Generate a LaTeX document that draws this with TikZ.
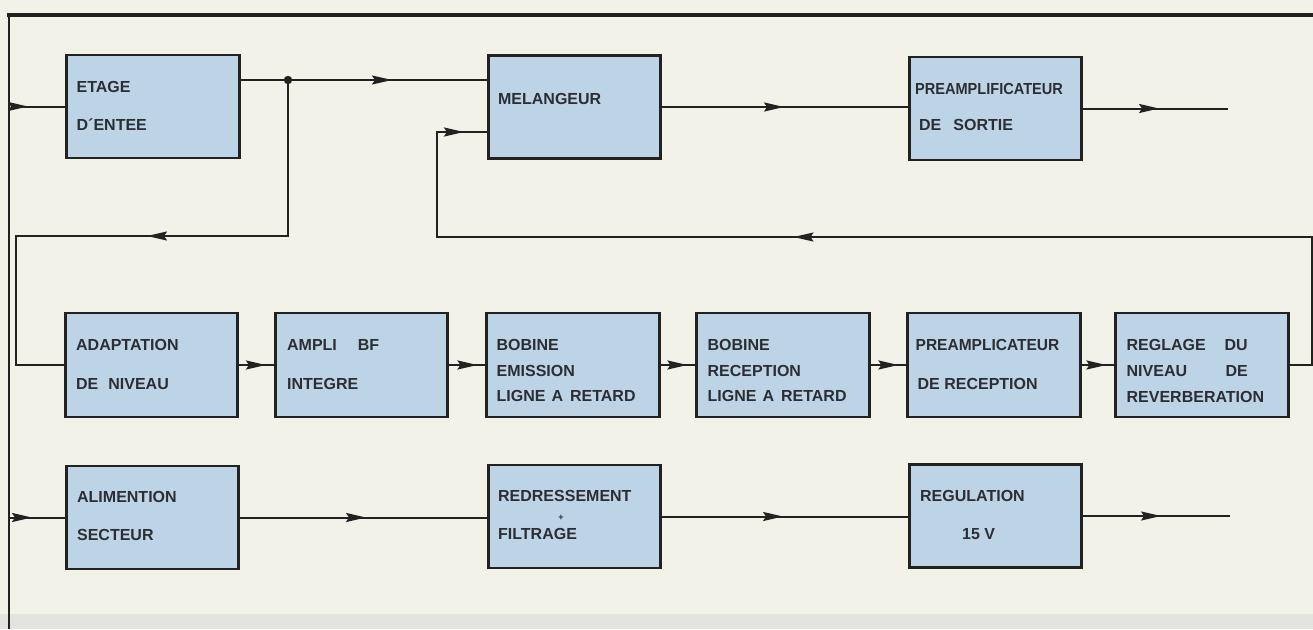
\documentclass[tikz,border=0pt]{standalone}
\usepackage{fontspec}
\setmainfont{Liberation Sans}
\usetikzlibrary{arrows.meta,decorations.markings}
\definecolor{paper}{HTML}{F3F2E8}
\definecolor{band}{HTML}{E4E4DF}
\definecolor{boxblue}{HTML}{BDD4E7}
\definecolor{ink}{HTML}{222222}
\definecolor{txtc}{HTML}{2C2E33}
\tikzset{
  tipS/.tip={Stealth[length=20pt,width=9pt,inset=3pt]},
  blk/.style={draw=ink,line width=2.6pt,fill=boxblue,minimum width=172.5pt,minimum height=103pt,inner sep=0pt},
  txt/.style={anchor=base west,inner sep=0pt,text=txtc,font=\fontsize{16}{18}\selectfont\bfseries},
  wire/.style={draw=ink,line width=2pt},
  arrat/.style={postaction={decorate,decoration={markings,mark=at position #1 with {\arrow[ink]{tipS}}}}}
}
\newcommand\lbl[4]{\node[txt] (#1) at ([shift={(#3)}]#2.north west) {#4};}
\begin{document}
\begin{tikzpicture}[x=1pt,y=-1pt]
\fill[paper] (0,0) rectangle (1313,629);
\fill[band] (0,614) rectangle (1313,629);
\useasboundingbox (0,0) rectangle (1313,629);
% frame
\coordinate (ftl) at (7,15);
\coordinate (ftr) at (1313,15);
\coordinate (fbl) at (9,629);
\draw[ink,line width=4pt] (ftl) -- (ftr);
\draw[ink,line width=2.4pt] (9,14) -- (fbl);
% boxes
\node[blk] (etage) at (153,106.5) {};
\node[blk] (mel) at (574.5,107) {};
\node[blk] (psort) at (995.5,108.5) {};
\node[blk,minimum height=104pt] (adapt) at (151.5,365) {};
\node[blk,minimum height=104pt] (ampli) at (361.5,365) {};
\node[blk,minimum height=104pt] (bemis) at (573,365) {};
\node[blk,minimum height=104pt] (brec) at (783,365) {};
\node[blk,minimum height=104pt] (prec) at (994,365) {};
\node[blk,minimum height=104pt] (regl) at (1202,365) {};
\node[blk] (alim) at (152.5,517.5) {};
\node[blk] (redr) at (574.5,516.5) {};
\node[blk] (regu) at (995.5,516) {};
% texts
\lbl{t1}{etage}{11,39}{ETAGE}
\lbl{t2}{etage}{11,77}{D´ENTEE}
\lbl{t3}{mel}{11,50}{MELANGEUR}
\lbl{t4}{psort}{7,39}{\scalebox{0.91}[1]{PREAMPLIFICATEUR}}
\lbl{t5}{psort}{11,75}{DE\hspace{12pt}SORTIE}
\lbl{t6}{adapt}{12,39}{ADAPTATION}
\lbl{t7}{adapt}{12,78}{DE\hspace{10pt}NIVEAU}
\lbl{t8}{ampli}{13,39}{AMPLI\hspace{21pt}BF}
\lbl{t9}{ampli}{13,78}{INTEGRE}
\lbl{t10}{bemis}{11,39}{BOBINE}
\lbl{t11}{bemis}{11,64.5}{EMISSION}
\lbl{t12}{bemis}{11,90}{LIGNE\hspace{6pt}A\hspace{7pt}RETARD}
\lbl{t13}{brec}{12,39}{BOBINE}
\lbl{t14}{brec}{12,64.5}{RECEPTION}
\lbl{t15}{brec}{12,90}{LIGNE\hspace{6pt}A\hspace{7pt}RETARD}
\lbl{t16}{prec}{9,39}{\scalebox{0.97}[1]{PREAMPLICATEUR}}
\lbl{t17}{prec}{11,78}{DE RECEPTION}
\lbl{t18}{regl}{12,39}{REGLAGE}
\lbl{t19}{regl}{110,39}{DU}
\lbl{t20}{regl}{12,65}{NIVEAU}
\lbl{t21}{regl}{111,65}{DE}
\lbl{t22}{regl}{12,91}{REVERBERATION}
\lbl{t23}{alim}{12,38}{ALIMENTION}
\lbl{t24}{alim}{12,76}{SECTEUR}
\lbl{t25}{redr}{11,38}{REDRESSEMENT}
\node[inner sep=0pt,text=txtc,font=\fontsize{9}{9}\selectfont\bfseries] (t26) at ([shift={(74,54)}]redr.north west) {+};
\lbl{t27}{redr}{11,76}{FILTRAGE}
\lbl{t28}{regu}{12,38}{REGULATION}
\lbl{t29}{regu}{54,76}{15 V}
% coordinates
\coordinate (inA) at (14,0);
\coordinate (inB) at (10,0);
\coordinate (j) at (288,80);
\coordinate (jd) at (288,236);
\coordinate (ld) at (16,236);
\coordinate (outA) at (1228,0);
\coordinate (outB) at (1230,0);
\coordinate (fr) at (1312,237);
\coordinate (fl) at (437,237);
\coordinate (fm) at (437,132);
% connectors
\draw[wire,arrat=14pt] (inA |- etage.west) -- (etage.west);
\draw[wire] (etage.east |- j) -- (j);
\draw[wire,arrat=104pt] (j) -- (mel.west |- j);
\draw[wire,arrat=297pt] (j) -- (jd) -- (ld) |- (adapt.west);
\fill[ink] (j) circle (4.2pt);
\draw[wire,arrat=122pt] (mel.east) -- (mel.east -| psort.west);
\draw[wire,arrat=76pt] (psort.east) -- (outA |- psort.east);
\draw[wire,arrat=-8pt] (adapt.east) -- (ampli.west);
\draw[wire,arrat=-8pt] (ampli.east) -- (bemis.west);
\draw[wire,arrat=-8pt] (bemis.east) -- (brec.west);
\draw[wire,arrat=-8pt] (brec.east) -- (prec.west);
\draw[wire,arrat=-8pt] (prec.east) -- (regl.west);
\draw[wire,arrat=669pt,arrat=-23pt] (regl.east) -| (fr) -- (fl) -- (fm) -- (fm -| mel.west);
\draw[wire,arrat=22pt] (inB |- alim.west) -- (alim.west);
\draw[wire,arrat=126pt] (alim.east) -- (alim.east -| redr.west);
\draw[wire,arrat=121pt] (redr.east) -- (redr.east -| regu.west);
\draw[wire,arrat=78pt] (regu.east) -- (outB |- regu.east);
\end{tikzpicture}
\end{document}
